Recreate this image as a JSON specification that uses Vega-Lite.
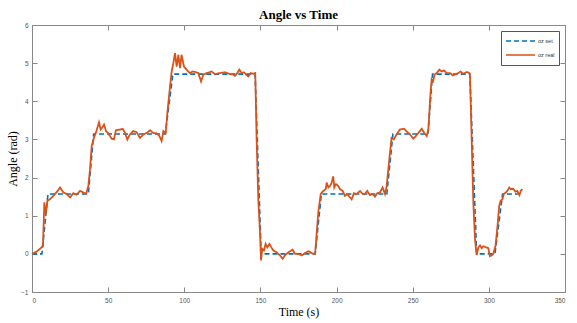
{
  "$schema": "https://vega.github.io/schema/vega-lite/v6.json",
  "autosize": "none",
  "width": 533,
  "height": 267,
  "padding": {"left": 32, "top": 25, "right": 12, "bottom": 31},
  "background": "white",
  "title": {"text": "Angle vs Time", "font": "Liberation Serif", "fontSize": 13, "fontWeight": "bold", "color": "#000", "anchor": "middle", "offset": 0},
  "config": {
    "view": {"stroke": null},
    "axis": {"labelFont": "Liberation Sans", "labelFontSize": 6.5, "labelColor": "#555", "domainColor": "#888", "tickColor": "#888", "grid": false, "titleFont": "Liberation Serif", "titleFontSize": 12, "titleFontWeight": "normal", "titleColor": "#000"}
  },
  "data": {"values": [
    {"t":0,"v":0,"s":"oz set"},{"t":6.5,"v":0,"s":"oz set"},{"t":10.5,"v":1.5708,"s":"oz set"},{"t":37,"v":1.5708,"s":"oz set"},{"t":40.5,"v":3.1416,"s":"oz set"},{"t":87.5,"v":3.1416,"s":"oz set"},{"t":92.5,"v":4.7124,"s":"oz set"},{"t":146.5,"v":4.7124,"s":"oz set"},{"t":150.5,"v":0,"s":"oz set"},{"t":186,"v":0,"s":"oz set"},{"t":190,"v":1.5708,"s":"oz set"},{"t":233,"v":1.5708,"s":"oz set"},{"t":237,"v":3.1416,"s":"oz set"},{"t":260,"v":3.1416,"s":"oz set"},{"t":263,"v":4.7124,"s":"oz set"},{"t":287.5,"v":4.7124,"s":"oz set"},{"t":292,"v":0,"s":"oz set"},{"t":304,"v":0,"s":"oz set"},{"t":309,"v":1.5708,"s":"oz set"},{"t":320.5,"v":1.5708,"s":"oz set"},
    {"t":0,"v":0,"s":"oz real"},{"t":3.1,"v":0.06,"s":"oz real"},{"t":6.3,"v":0.17,"s":"oz real"},{"t":7.2,"v":0.22,"s":"oz real"},{"t":8.1,"v":1.35,"s":"oz real"},{"t":9.0,"v":1.04,"s":"oz real"},{"t":10.1,"v":1.39,"s":"oz real"},{"t":11.8,"v":1.43,"s":"oz real"},{"t":13.5,"v":1.5,"s":"oz real"},{"t":15.1,"v":1.57,"s":"oz real"},{"t":16.8,"v":1.65,"s":"oz real"},{"t":18.4,"v":1.74,"s":"oz real"},{"t":20.6,"v":1.61,"s":"oz real"},{"t":22.8,"v":1.57,"s":"oz real"},{"t":25.0,"v":1.48,"s":"oz real"},{"t":27.1,"v":1.59,"s":"oz real"},{"t":29.3,"v":1.55,"s":"oz real"},{"t":31.5,"v":1.65,"s":"oz real"},{"t":33.7,"v":1.61,"s":"oz real"},{"t":35.5,"v":1.57,"s":"oz real"},{"t":37.0,"v":1.78,"s":"oz real"},{"t":38.1,"v":2.22,"s":"oz real"},{"t":39.2,"v":2.83,"s":"oz real"},{"t":40.7,"v":3.04,"s":"oz real"},{"t":42.3,"v":3.22,"s":"oz real"},{"t":44.0,"v":3.45,"s":"oz real"},{"t":45.1,"v":3.26,"s":"oz real"},{"t":46.4,"v":3.33,"s":"oz real"},{"t":47.3,"v":3.39,"s":"oz real"},{"t":48.6,"v":3.22,"s":"oz real"},{"t":50.1,"v":3.16,"s":"oz real"},{"t":52.3,"v":3.02,"s":"oz real"},{"t":53.8,"v":3.0,"s":"oz real"},{"t":55.1,"v":3.24,"s":"oz real"},{"t":57.8,"v":3.26,"s":"oz real"},{"t":59.5,"v":3.28,"s":"oz real"},{"t":61.1,"v":3.17,"s":"oz real"},{"t":62.6,"v":3.0,"s":"oz real"},{"t":64.3,"v":3.13,"s":"oz real"},{"t":66.5,"v":3.22,"s":"oz real"},{"t":68.7,"v":3.19,"s":"oz real"},{"t":70.9,"v":3.04,"s":"oz real"},{"t":73.1,"v":3.13,"s":"oz real"},{"t":75.3,"v":3.17,"s":"oz real"},{"t":77.5,"v":3.24,"s":"oz real"},{"t":79.6,"v":3.17,"s":"oz real"},{"t":81.8,"v":3.16,"s":"oz real"},{"t":83.6,"v":3.09,"s":"oz real"},{"t":85.1,"v":2.96,"s":"oz real"},{"t":86.3,"v":3.22,"s":"oz real"},{"t":87.8,"v":3.17,"s":"oz real"},{"t":88.9,"v":3.70,"s":"oz real"},{"t":90.2,"v":4.22,"s":"oz real"},{"t":91.7,"v":4.78,"s":"oz real"},{"t":92.8,"v":5.0,"s":"oz real"},{"t":93.9,"v":5.26,"s":"oz real"},{"t":95.0,"v":4.91,"s":"oz real"},{"t":96.1,"v":5.22,"s":"oz real"},{"t":97.2,"v":4.87,"s":"oz real"},{"t":98.2,"v":5.22,"s":"oz real"},{"t":99.8,"v":4.91,"s":"oz real"},{"t":101.5,"v":4.83,"s":"oz real"},{"t":103.7,"v":4.74,"s":"oz real"},{"t":105.5,"v":4.78,"s":"oz real"},{"t":107.0,"v":4.77,"s":"oz real"},{"t":109.2,"v":4.74,"s":"oz real"},{"t":111.0,"v":4.52,"s":"oz real"},{"t":112.5,"v":4.70,"s":"oz real"},{"t":114.7,"v":4.74,"s":"oz real"},{"t":118.0,"v":4.78,"s":"oz real"},{"t":120.2,"v":4.71,"s":"oz real"},{"t":123.4,"v":4.74,"s":"oz real"},{"t":126.7,"v":4.76,"s":"oz real"},{"t":130.0,"v":4.71,"s":"oz real"},{"t":132.2,"v":4.70,"s":"oz real"},{"t":133.3,"v":4.67,"s":"oz real"},{"t":134.8,"v":4.74,"s":"oz real"},{"t":136.1,"v":4.83,"s":"oz real"},{"t":137.7,"v":4.74,"s":"oz real"},{"t":139.2,"v":4.76,"s":"oz real"},{"t":140.5,"v":4.70,"s":"oz real"},{"t":142.0,"v":4.65,"s":"oz real"},{"t":143.6,"v":4.74,"s":"oz real"},{"t":145.3,"v":4.72,"s":"oz real"},{"t":146.6,"v":4.74,"s":"oz real"},{"t":147.5,"v":3.0,"s":"oz real"},{"t":148.6,"v":1.43,"s":"oz real"},{"t":149.7,"v":0.57,"s":"oz real"},{"t":150.4,"v":-0.17,"s":"oz real"},{"t":151.2,"v":0.13,"s":"oz real"},{"t":152.3,"v":0.09,"s":"oz real"},{"t":153.4,"v":0.26,"s":"oz real"},{"t":154.5,"v":0.17,"s":"oz real"},{"t":155.9,"v":0.26,"s":"oz real"},{"t":157.2,"v":0.17,"s":"oz real"},{"t":158.5,"v":0.09,"s":"oz real"},{"t":160.6,"v":0.04,"s":"oz real"},{"t":162.8,"v":-0.04,"s":"oz real"},{"t":164.6,"v":-0.13,"s":"oz real"},{"t":166.1,"v":-0.04,"s":"oz real"},{"t":168.3,"v":0.04,"s":"oz real"},{"t":171.1,"v":0.11,"s":"oz real"},{"t":172.7,"v":0.0,"s":"oz real"},{"t":174.9,"v":0.0,"s":"oz real"},{"t":177.1,"v":-0.04,"s":"oz real"},{"t":179.3,"v":0.02,"s":"oz real"},{"t":181.5,"v":0.07,"s":"oz real"},{"t":183.6,"v":0.02,"s":"oz real"},{"t":185.9,"v":0.0,"s":"oz real"},{"t":187.0,"v":0.57,"s":"oz real"},{"t":188.0,"v":1.09,"s":"oz real"},{"t":189.6,"v":1.57,"s":"oz real"},{"t":191.3,"v":1.65,"s":"oz real"},{"t":192.9,"v":1.70,"s":"oz real"},{"t":193.5,"v":1.87,"s":"oz real"},{"t":194.6,"v":1.74,"s":"oz real"},{"t":195.7,"v":1.78,"s":"oz real"},{"t":196.8,"v":1.87,"s":"oz real"},{"t":197.8,"v":2.03,"s":"oz real"},{"t":198.5,"v":1.74,"s":"oz real"},{"t":199.6,"v":1.83,"s":"oz real"},{"t":201.1,"v":1.78,"s":"oz real"},{"t":202.2,"v":1.70,"s":"oz real"},{"t":204.0,"v":1.65,"s":"oz real"},{"t":205.5,"v":1.52,"s":"oz real"},{"t":207.1,"v":1.57,"s":"oz real"},{"t":208.4,"v":1.50,"s":"oz real"},{"t":209.9,"v":1.43,"s":"oz real"},{"t":211.4,"v":1.59,"s":"oz real"},{"t":213.2,"v":1.57,"s":"oz real"},{"t":215.4,"v":1.65,"s":"oz real"},{"t":217.1,"v":1.57,"s":"oz real"},{"t":218.6,"v":1.57,"s":"oz real"},{"t":220.1,"v":1.65,"s":"oz real"},{"t":221.9,"v":1.54,"s":"oz real"},{"t":223.7,"v":1.57,"s":"oz real"},{"t":225.2,"v":1.50,"s":"oz real"},{"t":226.7,"v":1.59,"s":"oz real"},{"t":228.5,"v":1.61,"s":"oz real"},{"t":230.2,"v":1.74,"s":"oz real"},{"t":231.8,"v":1.57,"s":"oz real"},{"t":232.9,"v":1.78,"s":"oz real"},{"t":234.4,"v":2.39,"s":"oz real"},{"t":236.1,"v":3.04,"s":"oz real"},{"t":237.6,"v":3.0,"s":"oz real"},{"t":239.4,"v":3.13,"s":"oz real"},{"t":241.6,"v":3.26,"s":"oz real"},{"t":244.3,"v":3.28,"s":"oz real"},{"t":246.5,"v":3.19,"s":"oz real"},{"t":248.2,"v":3.13,"s":"oz real"},{"t":250.4,"v":3.02,"s":"oz real"},{"t":252.1,"v":3.09,"s":"oz real"},{"t":253.7,"v":3.17,"s":"oz real"},{"t":255.9,"v":3.28,"s":"oz real"},{"t":257.6,"v":3.17,"s":"oz real"},{"t":259.2,"v":3.09,"s":"oz real"},{"t":260.3,"v":3.26,"s":"oz real"},{"t":261.4,"v":4.04,"s":"oz real"},{"t":262.4,"v":4.57,"s":"oz real"},{"t":263.3,"v":4.52,"s":"oz real"},{"t":264.4,"v":4.70,"s":"oz real"},{"t":265.7,"v":4.74,"s":"oz real"},{"t":267.5,"v":4.83,"s":"oz real"},{"t":269.0,"v":4.78,"s":"oz real"},{"t":270.5,"v":4.81,"s":"oz real"},{"t":272.3,"v":4.74,"s":"oz real"},{"t":274.5,"v":4.74,"s":"oz real"},{"t":276.2,"v":4.68,"s":"oz real"},{"t":277.7,"v":4.70,"s":"oz real"},{"t":279.9,"v":4.74,"s":"oz real"},{"t":281.4,"v":4.78,"s":"oz real"},{"t":283.2,"v":4.72,"s":"oz real"},{"t":285.4,"v":4.77,"s":"oz real"},{"t":287.2,"v":4.74,"s":"oz real"},{"t":287.6,"v":4.70,"s":"oz real"},{"t":288.7,"v":3.0,"s":"oz real"},{"t":289.8,"v":1.35,"s":"oz real"},{"t":290.9,"v":0.39,"s":"oz real"},{"t":292.0,"v":-0.03,"s":"oz real"},{"t":293.1,"v":0.17,"s":"oz real"},{"t":294.2,"v":0.22,"s":"oz real"},{"t":295.3,"v":0.15,"s":"oz real"},{"t":296.4,"v":0.20,"s":"oz real"},{"t":298.1,"v":0.17,"s":"oz real"},{"t":299.6,"v":0.15,"s":"oz real"},{"t":300.7,"v":-0.06,"s":"oz real"},{"t":301.8,"v":-0.04,"s":"oz real"},{"t":302.9,"v":0.0,"s":"oz real"},{"t":304.4,"v":0.22,"s":"oz real"},{"t":305.7,"v":0.74,"s":"oz real"},{"t":306.8,"v":1.26,"s":"oz real"},{"t":307.7,"v":1.39,"s":"oz real"},{"t":308.9,"v":1.43,"s":"oz real"},{"t":309.8,"v":1.57,"s":"oz real"},{"t":311.2,"v":1.61,"s":"oz real"},{"t":312.1,"v":1.65,"s":"oz real"},{"t":313.4,"v":1.74,"s":"oz real"},{"t":314.3,"v":1.70,"s":"oz real"},{"t":316.1,"v":1.70,"s":"oz real"},{"t":317.4,"v":1.63,"s":"oz real"},{"t":318.7,"v":1.65,"s":"oz real"},{"t":320.1,"v":1.54,"s":"oz real"},{"t":320.9,"v":1.65,"s":"oz real"},{"t":322.0,"v":1.70,"s":"oz real"}
  ]},
  "layer": [
    {
      "transform": [{"filter": "datum.s === 'oz set'"}],
      "mark": {"type": "line", "strokeWidth": 1.6, "strokeDash": [5, 3]},
      "encoding": {
        "x": {"field": "t", "type": "quantitative", "scale": {"domain": [0, 350], "nice": false, "zero": false},
              "axis": {"orient": "bottom", "values": [0, 50, 100, 150, 200, 250, 300, 350], "tickSize": -5, "labelPadding": 10, "title": "Time (s)", "titlePadding": 3}},
        "y": {"field": "v", "type": "quantitative", "scale": {"domain": [-1, 6], "nice": false, "zero": false},
              "axis": {"orient": "left", "values": [-1, 0, 1, 2, 3, 4, 5, 6], "tickSize": -5, "labelPadding": 9, "title": "Angle (rad)", "titlePadding": 1}},
        "color": {"field": "s", "type": "nominal", "scale": {"domain": ["oz set", "oz real"], "range": ["#0072BD", "#D95319"]},
                  "legend": {"title": null, "orient": "top-right", "offset": 6, "symbolType": "stroke", "symbolSize": 841, "symbolStrokeWidth": 1.6, "clipHeight": 12, "rowPadding": 2, "padding": 4, "labelFont": "Liberation Sans", "labelFontSize": 5.5, "labelColor": "#333", "labelOffset": 2, "labelExpr": "datum.label + '\u00a0\u00a0\u00a0\u00a0\u00a0\u00a0'", "strokeColor": "#555", "fillColor": "white"}},
        "strokeDash": {"field": "s", "type": "nominal", "scale": {"domain": ["oz set", "oz real"], "range": [[5, 3], [1, 0]]}, "legend": null}
      }
    },
    {
      "transform": [{"filter": "datum.s === 'oz real'"}],
      "mark": {"type": "line", "strokeWidth": 1.8},
      "encoding": {
        "x": {"field": "t", "type": "quantitative", "axis": {"orient": "top", "values": [0, 50, 100, 150, 200, 250, 300, 350], "tickSize": -5, "labels": false, "title": null}},
        "y": {"field": "v", "type": "quantitative", "axis": {"orient": "right", "values": [-1, 0, 1, 2, 3, 4, 5, 6], "tickSize": -5, "labels": false, "title": null}},
        "color": {"field": "s", "type": "nominal"},
        "strokeDash": {"field": "s", "type": "nominal"}
      }
    }
  ],
  "resolve": {"axis": {"x": "independent", "y": "independent"}}
}
